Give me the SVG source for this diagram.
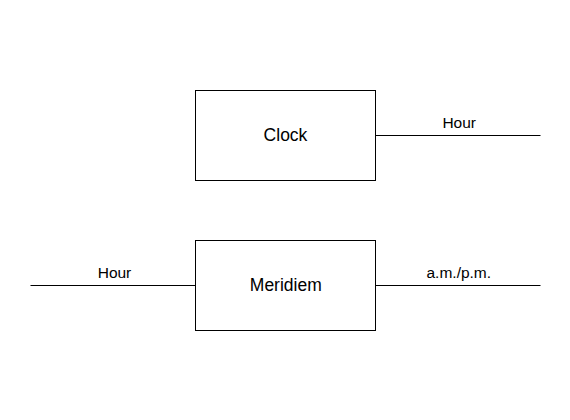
<svg xmlns="http://www.w3.org/2000/svg" width="570" height="420" viewBox="0 0 570 420">
<style>
.box{fill:#fff;stroke:#000;stroke-width:1}
.ln{stroke:#000;stroke-width:1;fill:none}
.t{font-family:"Liberation Sans",Arial,sans-serif;fill:#000;text-anchor:middle}
.n{font-size:17.5px}
.l{font-size:15.5px}
</style>
<rect width="570" height="420" fill="#fff"/>
<g id="connectors">
<line class="ln" x1="376" y1="135.5" x2="540.5" y2="135.5"/>
<line class="ln" x1="30.5" y1="285.5" x2="195" y2="285.5"/>
<line class="ln" x1="376" y1="285.5" x2="540.5" y2="285.5"/>
<text class="t l" x="459.2" y="128.3">Hour</text>
<text class="t l" x="114.5" y="278.3">Hour</text>
<text class="t l" x="458.8" y="278">a.m./p.m.</text>
</g>
<g id="clock">
<rect class="box" x="195.5" y="90.5" width="180" height="90"/>
<text class="t n" x="285.5" y="141">Clock</text>
</g>
<g id="meridiem">
<rect class="box" x="195.5" y="240.5" width="180" height="90"/>
<text class="t n" x="285.8" y="291">Meridiem</text>
</g>
</svg>
